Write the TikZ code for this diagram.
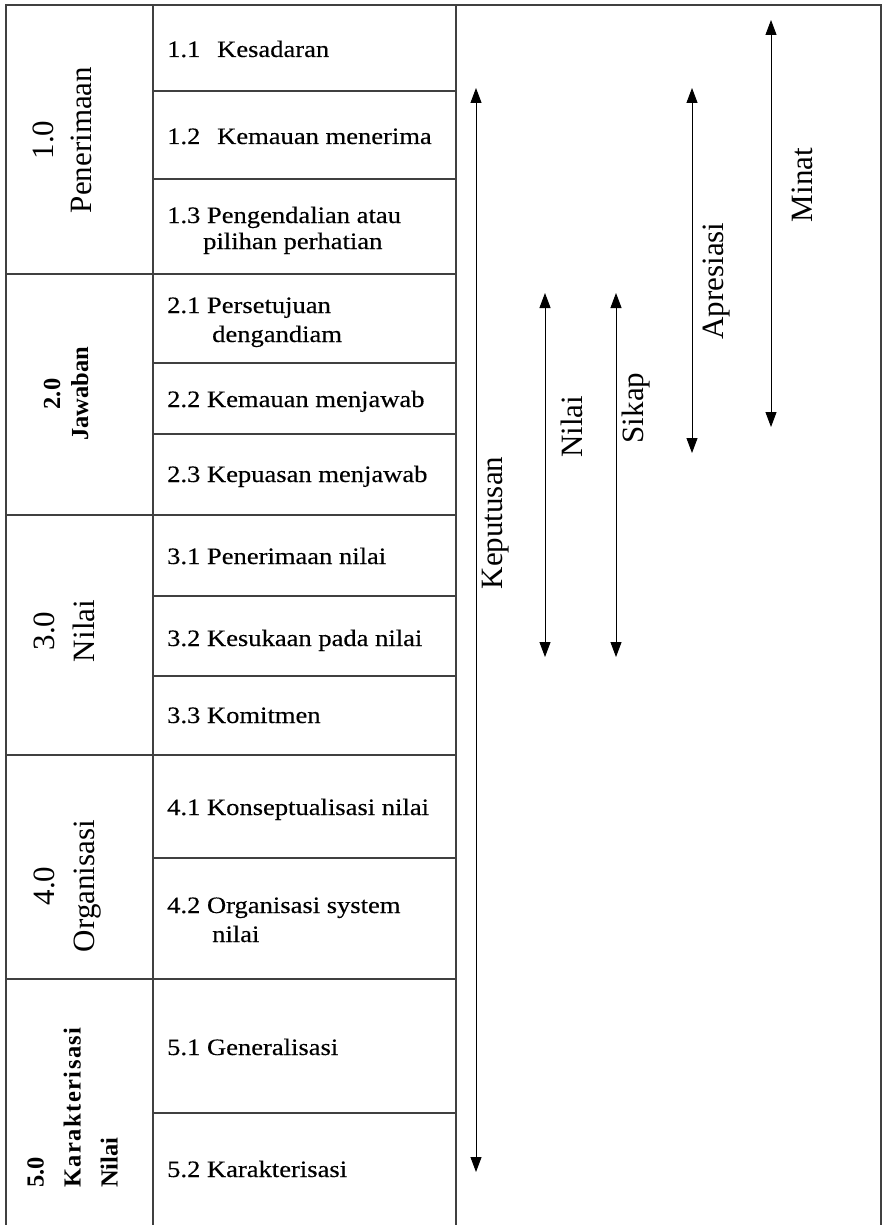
\documentclass[tikz,border=0pt]{standalone}
\usepackage{fontspec}
\setmainfont{Liberation Serif}
\newfontfamily\tabfont[FakeStretch=1.13,FakeBold=0.3]{Liberation Serif}
\newfontfamily\boldlab{Liberation Serif}
\newfontfamily\boldspaced[LetterSpace=6]{Liberation Serif}
\usetikzlibrary{arrows.meta}
\begin{document}
\begin{tikzpicture}[x=1pt,y=-1pt,
  gridline/.style={draw=black!75,line width=1.3pt},
  cell/.style={anchor=base west,inner sep=0pt,font=\tabfont\fontsize{23.5}{27}\selectfont},
  lvl/.style={rotate=90,align=center,inner sep=0pt,font=\fontsize{31}{38}\selectfont},
  arr/.style={{Triangle[length=15pt,width=11pt]}-{Triangle[length=15pt,width=11pt]},line width=0.9pt,black},
  albl/.style={rotate=90,anchor=base,inner sep=0pt,font=\fontsize{31}{36}\selectfont}]
\useasboundingbox (0,0) rectangle (882,1225);
% grid
\draw[gridline] (6,1225) -- (6,5) -- (881,5) -- (881,1225);
\draw[gridline] (153,5) -- (153,1225);
\draw[gridline] (456,5) -- (456,1225);
\foreach \y in {274,515,755,979} \draw[gridline] (6,\y) -- (456,\y);
\foreach \y in {91,179,363,434,596,676,858,1113} \draw[gridline] (153,\y) -- (456,\y);
% sub-level texts
\node[cell] (c11) at (167,57) {\makebox[50pt][l]{1.1}Kesadaran};
\node[cell] (c12) at (167,144) {\makebox[50pt][l]{1.2}Kemauan menerima};
\node[cell] (c13) at (167,223) {1.3 Pengendalian atau};
\node[cell] (c13b) at (203,249) {pilihan perhatian};
\node[cell] (c21) at (167,313) {2.1 Persetujuan};
\node[cell] (c21b) at (212,342) {dengandiam};
\node[cell] (c22) at (167,407) {2.2 Kemauan menjawab};
\node[cell] (c23) at (167,482) {2.3 Kepuasan menjawab};
\node[cell] (c31) at (167,564) {3.1 Penerimaan nilai};
\node[cell] (c32) at (167,646) {3.2 Kesukaan pada nilai};
\node[cell] (c33) at (167,723) {3.3 Komitmen};
\node[cell] (c41) at (167,815) {4.1 Konseptualisasi nilai};
\node[cell] (c42) at (167,913) {4.2 Organisasi system};
\node[cell] (c42b) at (212,942) {nilai};
\node[cell] (c51) at (167,1055) {5.1 Generalisasi};
\node[cell] (c52) at (167,1177) {5.2 Karakterisasi};
% level labels
\node[lvl] (l1) at (62.5,140) {1.0\\Penerimaan};
\node[lvl,font=\boldlab\bfseries\fontsize{24.5}{28}\selectfont] (l2) at (66,394) {2.0\\Jawaban};
\node[lvl,font=\fontsize{31}{40}\selectfont] (l3) at (64,631) {3.0\\Nilai};
\node[lvl,font=\fontsize{31}{40}\selectfont] (l4) at (67.5,886) {4.0\\Organisasi};
\node[lvl,align=left,anchor=west,font=\boldlab\bfseries\fontsize{24.5}{37}\selectfont] (l5) at (72.5,1188) {5.0\\{\boldspaced\bfseries Karakterisasi}\\Nilai};
% arrows
\coordinate (kt) at (476,88);  \coordinate (kb) at (476,1172);
\coordinate (nt) at (545,293); \coordinate (nb) at (545,657);
\coordinate (st) at (616,293); \coordinate (sb) at (616,657);
\coordinate (at) at (692,88);  \coordinate (ab) at (692,453);
\coordinate (mt) at (771,20);  \coordinate (mb) at (771,427);
\draw[arr] (kt) -- (kb);
\draw[arr] (nt) -- (nb);
\draw[arr] (st) -- (sb);
\draw[arr] (at) -- (ab);
\draw[arr] (mt) -- (mb);
\node[albl] (lk) at (502,523) {Keputusan};
\node[albl] (ln) at (582,427) {Nilai};
\node[albl] (ls) at (643,408) {Sikap};
\node[albl] (la) at (723,281) {Apresiasi};
\node[albl] (lm) at (812,185) {Minat};
\end{tikzpicture}
\end{document}
